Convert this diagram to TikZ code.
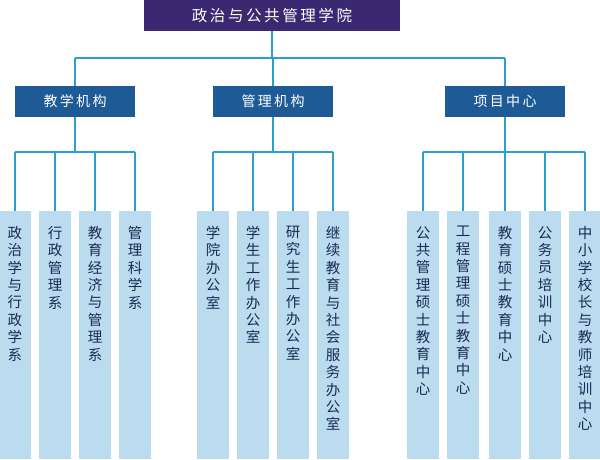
\documentclass[tikz,border=0pt]{standalone}
\usepackage{fontspec}
\setmainfont{Noto Sans CJK SC}
\definecolor{topc}{HTML}{3A2870}
\definecolor{midc}{HTML}{1D5A96}
\definecolor{leafc}{HTML}{BADCEE}
\definecolor{linec}{HTML}{2A9FD0}
\definecolor{leaftxt}{HTML}{1B2A55}
\begin{document}
\begin{tikzpicture}[x=1pt,y=-1pt,
  topbox/.style={fill=topc,text=white,minimum width=256pt,minimum height=31pt,inner sep=0,font=\fontsize{15.5}{15.5}\selectfont},
  midbox/.style={fill=midc,text=white,minimum width=120pt,minimum height=31pt,inner sep=0,font=\fontsize{14}{14}\selectfont},
  leaf/.style={fill=leafc,minimum width=32pt,minimum height=248pt,inner sep=0,anchor=north},
  ltxt/.style={text=leaftxt,anchor=north,inner sep=0,align=center,font=\fontsize{14.5}{17.4}\selectfont},
  conn/.style={draw=linec,line width=1.2pt}]
\useasboundingbox (0,0) rectangle (600,459);
\node[topbox] (top) at (272,15.5) {政\,治\,与\,公\,共\,管\,理\,学\,院};
\node[midbox] (a) at (75,101.5) {教\,学\,机\,构};
\node[midbox] (b) at (273,101.5) {管\,理\,机\,构};
\node[midbox] (c) at (505,101.5) {项\,目\,中\,心};
\coordinate (t1) at (272,58);
\draw[conn] (top.south) -- (t1);
\foreach \m/\x in {a/75,b/273,c/505}{
  \draw[conn] (\m.north) -- (\x,58);
}
\draw[conn] (75,58) -- (505,58);
\foreach \n/\x/\t in {
 a1/15/政\\治\\学\\与\\行\\政\\学\\系,
 a2/55/行\\政\\管\\理\\系,
 a3/95/教\\育\\经\\济\\与\\管\\理\\系,
 a4/135/管\\理\\科\\学\\系,
 b1/213/学\\院\\办\\公\\室,
 b2/253/学\\生\\工\\作\\办\\公\\室,
 b3/293/研\\究\\生\\工\\作\\办\\公\\室,
 b4/333/继\\续\\教\\育\\与\\社\\会\\服\\务\\办\\公\\室,
 c1/423/公\\共\\管\\理\\硕\\士\\教\\育\\中\\心,
 c2/463/工\\程\\管\\理\\硕\\士\\教\\育\\中\\心,
 c3/505/教\\育\\硕\\士\\教\\育\\中\\心,
 c4/545/公\\务\\员\\培\\训\\中\\心,
 c5/585/中\\小\\学\\校\\长\\与\\教\\师\\培\\训\\中\\心}{
  \node[leaf] (\n) at (\x,211) {};
  \node[ltxt] at (\x,226) {\t};
}
\foreach \g/\x/\l/\r in {a/75/15/135,b/273/213/333,c/505/423/585}{
  \draw[conn] (\g.south) -- (\x,152);
  \draw[conn] (\l,152) -- (\r,152);
}
\foreach \n/\x in {a1/15,a2/55,a3/95,a4/135,b1/213,b2/253,b3/293,b4/333,c1/423,c2/463,c3/505,c4/545,c5/585}{
  \draw[conn] (\x,152) -- (\n.north);
}
\end{tikzpicture}
\end{document}
